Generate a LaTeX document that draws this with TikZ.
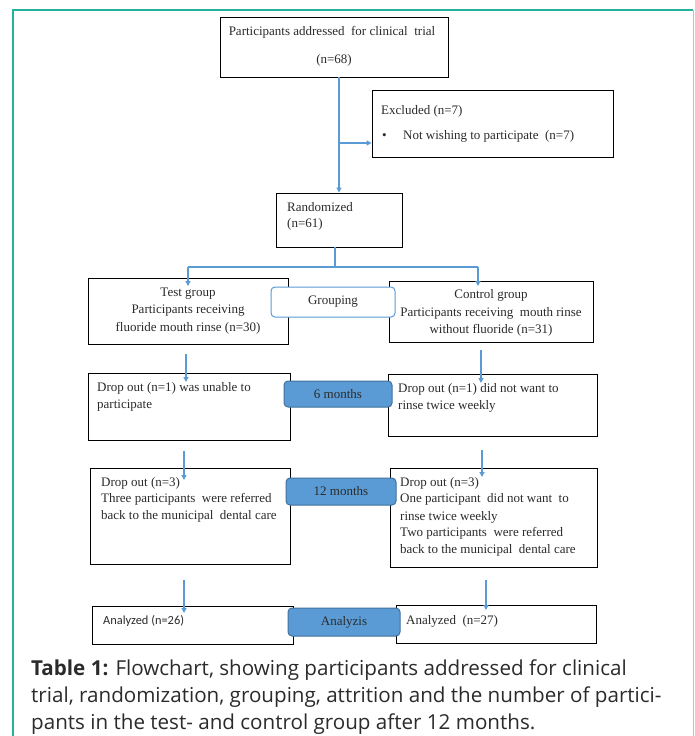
\documentclass[tikz,border=0pt]{standalone}
\usepackage{fontspec}
\setmainfont{Liberation Serif}
\newfontfamily\capfont{Open Sans}
\newfontfamily\calfont{Carlito}
\usetikzlibrary{arrows.meta,calc}
\definecolor{tealA}{HTML}{22B39C}
\definecolor{tealB}{HTML}{8ED6CC}
\definecolor{arrblue}{HTML}{5B9BD5}
\definecolor{boxblue}{HTML}{5B9BD5}
\definecolor{boxedge}{HTML}{41719C}
\definecolor{txtgray}{HTML}{2B2B2B}
\tikzset{
  box/.style={draw=black, line width=0.9pt, fill=white, inner sep=0pt, rectangle},
  txt/.style={font=\fontsize{13}{15}\selectfont, text=txtgray, inner sep=0pt},
  stxt/.style={font=\calfont\fontsize{12.4}{15}\selectfont, text=txtgray, inner sep=0pt},
  capt/.style={font=\capfont\fontsize{20.6}{24}\selectfont, text=txtgray, inner sep=0pt},
  lab/.style={draw=boxedge, line width=1pt, fill=boxblue, rounded corners=4pt, inner sep=0pt,
    font=\fontsize{13}{15}\selectfont, text=txtgray},
  labw/.style={draw=arrblue, line width=1pt, fill=white, rounded corners=4pt, inner sep=0pt,
    font=\fontsize{13}{15}\selectfont, text=txtgray},
  ln/.style={draw=arrblue, line width=1.2pt},
  arr/.style={draw=arrblue, line width=1.2pt, -{Triangle[length=5pt,width=5pt]}}
}
\begin{document}
\begin{tikzpicture}[x=1pt,y=-1pt]
\useasboundingbox (0,0) rectangle (694,736);
\fill[white] (0,0) rectangle (694,736);
% frame
\draw[tealA, line width=1.8pt] (13,736) -- (13,10) -- (693,10);
\draw[tealB, line width=1pt] (693,10) -- (693,736);

% top box
\node[box, minimum width=228pt, minimum height=60pt] (top) at (334,47) {};
\node[txt, anchor=base] (topt1) at (332,35) {Participants addressed\ \ for clinical\ \ trial};
\node[txt, anchor=base] (topt2) at (334,63) {(n=68)};

% excluded
\node[box, minimum width=241pt, minimum height=67pt] (excl) at (492.5,123.5) {};
\node[txt, anchor=base west] (exclt1) at (381,114) {Excluded (n=7)};
\node[txt, anchor=base west] (exclb) at (382,139) {\textbullet};
\node[txt, anchor=base west] (exclt2) at (403,139) {Not wishing to participate\ \ (n=7)};

% randomized
\node[box, minimum width=126pt, minimum height=54pt] (rand) at (339,220) {};
\node[txt, anchor=base west] (randt1) at (287,211) {Randomized};
\node[txt, anchor=base west] (randt2) at (287,227) {(n=61)};

% group boxes
\node[box, minimum width=200pt, minimum height=66pt] (test) at (188,311) {};
\node[txt, anchor=base] (testt1) at (188,296) {Test group};
\node[txt, anchor=base] (testt2) at (188,313) {Participants receiving};
\node[txt, anchor=base] (testt3) at (188,331) {fluoride mouth rinse (n=30)};

\node[box, minimum width=204pt, minimum height=61pt] (ctrl) at (491,311.5) {};
\node[txt, anchor=base] (ctrlt1) at (491,298) {Control group};
\node[txt, anchor=base] (ctrlt2) at (491,316) {Participants receiving\ \ mouth rinse};
\node[txt, anchor=base] (ctrlt3) at (491,333) {without fluoride (n=31)};

\node[labw, minimum width=124pt, minimum height=30pt] (grp) at (333,302) {Grouping};

% 6 months
\node[box, minimum width=202pt, minimum height=67pt] (d6L) at (189,406.5) {};
\node[txt, anchor=base west] (d6Lt1) at (97,391) {Drop out (n=1) was unable to};
\node[txt, anchor=base west] (d6Lt2) at (97,408) {participate};

\node[box, minimum width=209pt, minimum height=62pt] (d6R) at (492.5,405) {};
\node[txt, anchor=base west] (d6Rt1) at (398,392) {Drop out (n=1)\ did not want to};
\node[txt, anchor=base west] (d6Rt2) at (398,409) {rinse twice weekly};

\node[lab, minimum width=108pt, minimum height=26pt] (m6) at (338,394) {6 months};

% 12 months
\node[box, minimum width=200pt, minimum height=96pt] (d12L) at (190,516) {};
\node[txt, anchor=base west] (d12Lt1) at (101,486) {Drop out (n=3)};
\node[txt, anchor=base west] (d12Lt2) at (101,502) {Three participants\ \ were referred};
\node[txt, anchor=base west] (d12Lt3) at (101,519) {back to the municipal\ \ dental care};

\node[box, minimum width=207pt, minimum height=99pt] (d12R) at (493.5,517.5) {};
\node[txt, anchor=base west] (d12Rt1) at (400,486) {Drop out (n=3)};
\node[txt, anchor=base west] (d12Rt2) at (400,502) {One participant\ \ did not want\ \ to};
\node[txt, anchor=base west] (d12Rt3) at (400,520) {rinse twice weekly};
\node[txt, anchor=base west] (d12Rt4) at (400,536) {Two participants\ \ were referred};
\node[txt, anchor=base west] (d12Rt5) at (400,553) {back to the municipal\ \ dental care};

\node[lab, minimum width=110pt, minimum height=27pt] (m12) at (341,491.5) {12 months};

% analyzed
\node[box, minimum width=201pt, minimum height=38pt] (aL) at (192.5,625) {};
\node[stxt, anchor=base west] (aLt) at (103,624) {Analyzed (n=26)};
\node[box, minimum width=200pt, minimum height=38pt] (aR) at (496,624) {};
\node[txt, anchor=base west] (aRt) at (406,624) {Analyzed\ \ (n=27)};
\node[lab, minimum width=112pt, minimum height=28pt] (az) at (344,622) {Analyzis};

% connectors
\draw[arr] (top.south -| rand.north) -- (rand.north);
\coordinate (exA) at ($(excl.west)+(0,19.5)$);
\draw[arr] (rand.north |- exA) -- (exA);
\coordinate (sp) at (335,267);
\coordinate (spL) at (188,267);
\coordinate (spR) at (478,267);
\draw[ln] (rand.south -| sp) -- (sp);
\draw[ln] (spL) -- (spR);
\draw[arr] (spL) -- ++(0,19);
\draw[arr] (spR) -- ++(0,19);
\coordinate (a1) at (186,354);
\coordinate (a2) at (481,350);
\draw[arr] (a1) -- ++(0,28);
\draw[arr] (a2) -- ++(0,33);
\coordinate (b1) at (184,451);
\coordinate (b2) at (482,450);
\draw[arr] (b1) -- ++(0,29);
\draw[arr] (b2) -- ++(0,27);
\coordinate (c1) at (184,580);
\coordinate (c2) at (486,580);
\draw[arr] (c1) -- ++(0,33);
\draw[arr] (c2) -- ++(0,30);

% caption
\node[capt, anchor=base west] (cap1) at (31,675) {\textbf{Table 1:} Flowchart, showing participants addressed for clinical};
\node[capt, anchor=base west] (cap2) at (31,702) {trial, randomization, grouping, attrition and the number of partici-};
\node[capt, anchor=base west] (cap3) at (31,729) {pants in the test- and control group after 12 months.};
\end{tikzpicture}
\end{document}
